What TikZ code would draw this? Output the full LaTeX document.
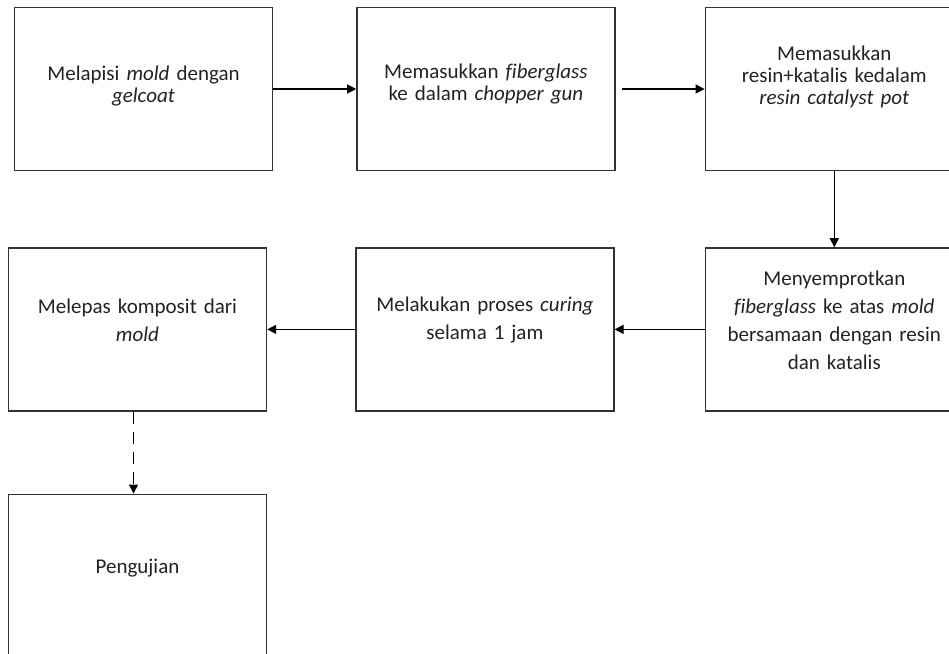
\documentclass[tikz,border=0pt]{standalone}
\usepackage{fontspec}
\setmainfont{Carlito}[Ligatures=NoCommon]
\usetikzlibrary{arrows.meta,positioning}
\definecolor{bline}{HTML}{333333}
\definecolor{btext}{HTML}{222222}

\begin{document}
\begin{tikzpicture}[
      every node/.style={align=center,text=btext},
      stepbox/.style={draw=bline,line width=0.7pt,
                  minimum width=129pt,minimum height=81.5pt,
                  text width=122pt,inner sep=0pt,
                  font=\fontsize{10.5}{11}\selectfont},
      lowbox/.style={stepbox,font=\fontsize{10.5}{14}\selectfont},
      lift/.style={execute at end node={\endgraf\nointerlineskip\vskip#1\hbox{}}},
      arr/.style={-{Triangle[length=4.5pt,width=4.5pt]},line width=0.6pt}
    ]
      \useasboundingbox (0,0) rectangle (474.5pt,-327pt);
      % top row
      \node[stepbox,lift=3pt] (m1) at (71.75pt,-44.5pt) {Melapisi \textit{mold} dengan\\ \textit{gelcoat}};
      \node[stepbox,lift=5pt,right=41.5pt of m1] (m2) {Memasukkan \textit{fiberglass}\\ ke dalam \textit{chopper gun}};
      \node[stepbox,lift=12pt,right=44.5pt of m2] (m3)
        {Memasukkan\\ resin+katalis kedalam\\ \textit{resin catalyst pot}};
      % bottom row
      \node[lowbox,lift=9pt,below=38pt of m3] (m4)
        {Menyemprotkan\\ \textit{fiberglass} ke atas \textit{mold}\\ bersamaan dengan resin\\ dan katalis};
      \node[lowbox,lift=9pt,left=45pt of m4] (m5) {Melakukan proses \textit{curing}\\ selama 1 jam};
      \node[lowbox,lift=9pt,left=44pt of m5] (m6) {Melepas komposit dari\\ \textit{mold}};
      \node[lowbox,lift=8pt,below=41pt of m6] (m7) {Pengujian};
      \draw[arr] (m1) -- (m2);
      \draw[arr] ([xshift=3pt]m2.east) -- (m3);
      \foreach \a/\b in {m3/m4,m4/m5,m5/m6}
        \draw[arr] (\a) -- (\b);
      \draw[arr,dashed,dash pattern=on 6pt off 4pt] ([xshift=-2pt]m6.south) -- ([xshift=-2pt]m7.north);
    \end{tikzpicture}
\end{document}
